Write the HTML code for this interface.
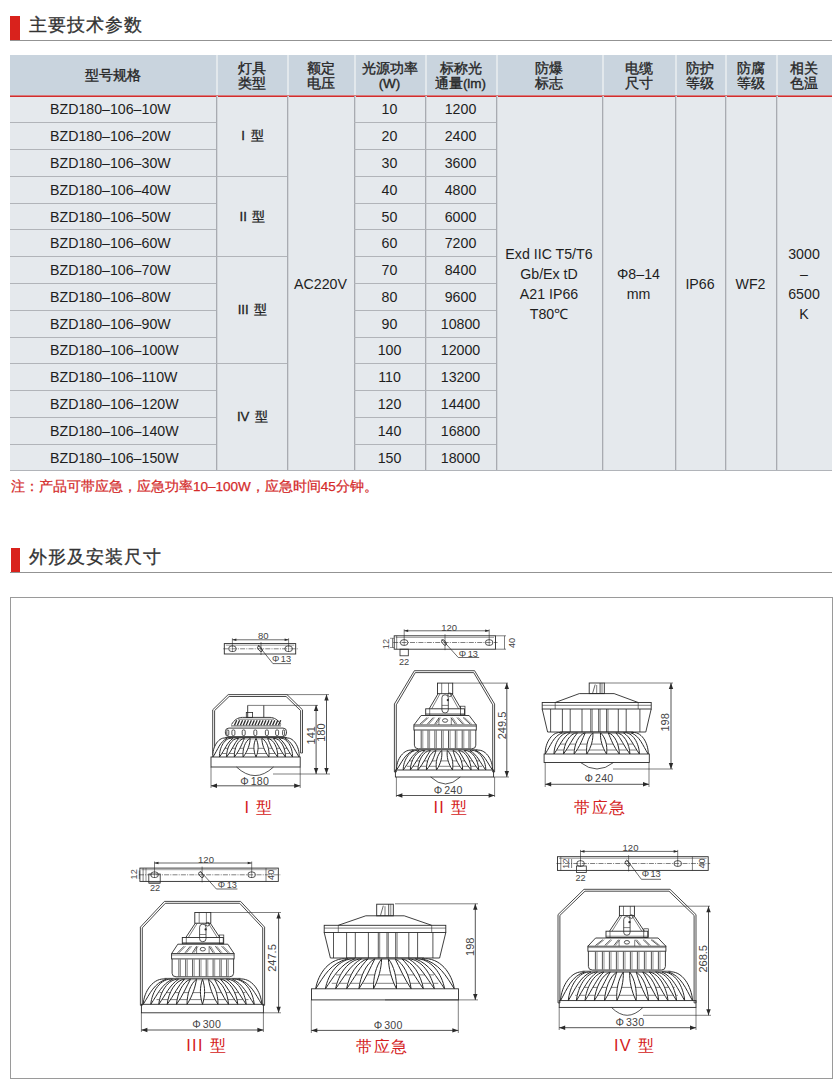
<!DOCTYPE html>
<html><head><meta charset="utf-8">
<style>
html,body{margin:0;padding:0;background:#fff;}
body{width:840px;height:1092px;position:relative;overflow:hidden;font-family:"Liberation Sans",sans-serif;color:#222;}
.a{position:absolute;}
.h1{position:absolute;font-size:18px;color:#333;line-height:20px;white-space:nowrap;letter-spacing:0.95px;-webkit-text-stroke:0.3px #333;}
.bar{position:absolute;background:#d9221c;}
.rule{position:absolute;height:1px;background:#939393;}
.hd{position:absolute;display:flex;align-items:center;justify-content:center;text-align:center;font-size:13.5px;line-height:15.5px;color:#262626;-webkit-text-stroke:0.35px #262626;}
.cell{position:absolute;display:flex;align-items:center;justify-content:center;text-align:center;font-size:14.2px;line-height:20px;color:#1e1e1e;white-space:nowrap;}
.vl{position:absolute;width:1px;background:#a8abb1;box-shadow:1px 0 0 #d3d6da;}
.hl{position:absolute;height:1px;background:#b1b4b9;}
.lbl{position:absolute;font-size:16px;color:#d42020;white-space:nowrap;line-height:18px;}
</style></head><body>

<div class="bar" style="left:10px;top:16px;width:10px;height:24px"></div>
<div class="h1" style="left:29px;top:15px">主要技术参数</div>
<div class="rule" style="left:10px;top:40px;width:822px"></div>
<div class="a" style="left:10px;top:55px;width:822px;height:40px;background:#c9d4de"></div>
<div class="a" style="left:10px;top:96px;width:822px;height:375px;background:#e5e9ed"></div>
<div class="a" style="left:10px;top:95px;width:822px;height:1px;background:#d77a7c"></div>
<div class="a" style="left:10px;top:96px;width:822px;height:1px;background:#d32c2c"></div>
<div class="a" style="left:216px;top:55px;width:2px;height:40px;background:#e2e8ec"></div>
<div class="a" style="left:287px;top:55px;width:2px;height:40px;background:#e2e8ec"></div>
<div class="a" style="left:354px;top:55px;width:2px;height:40px;background:#e2e8ec"></div>
<div class="a" style="left:425px;top:55px;width:2px;height:40px;background:#e2e8ec"></div>
<div class="a" style="left:496px;top:55px;width:2px;height:40px;background:#e2e8ec"></div>
<div class="a" style="left:602px;top:55px;width:2px;height:40px;background:#e2e8ec"></div>
<div class="a" style="left:675px;top:55px;width:2px;height:40px;background:#e2e8ec"></div>
<div class="a" style="left:725px;top:55px;width:2px;height:40px;background:#e2e8ec"></div>
<div class="a" style="left:776px;top:55px;width:2px;height:40px;background:#e2e8ec"></div>
<div class="hd" style="left:10px;top:56px;width:206px;height:40px">型号规格</div>
<div class="hd" style="left:216px;top:56px;width:71px;height:40px">灯具<br>类型</div>
<div class="hd" style="left:287px;top:56px;width:67px;height:40px">额定<br>电压</div>
<div class="hd" style="left:354px;top:56px;width:71px;height:40px">光源功率<br>(W)</div>
<div class="hd" style="left:425px;top:56px;width:71px;height:40px">标称光<br>通量(lm)</div>
<div class="hd" style="left:496px;top:56px;width:106px;height:40px">防爆<br>标志</div>
<div class="hd" style="left:602px;top:56px;width:73px;height:40px">电缆<br>尺寸</div>
<div class="hd" style="left:675px;top:56px;width:50px;height:40px">防护<br>等级</div>
<div class="hd" style="left:725px;top:56px;width:51px;height:40px">防腐<br>等级</div>
<div class="hd" style="left:776px;top:56px;width:56px;height:40px">相关<br>色温</div>
<div class="vl" style="left:216px;top:96px;height:375px"></div>
<div class="vl" style="left:287px;top:96px;height:375px"></div>
<div class="vl" style="left:354px;top:96px;height:375px"></div>
<div class="vl" style="left:425px;top:96px;height:375px"></div>
<div class="vl" style="left:496px;top:96px;height:375px"></div>
<div class="vl" style="left:602px;top:96px;height:375px"></div>
<div class="vl" style="left:675px;top:96px;height:375px"></div>
<div class="vl" style="left:725px;top:96px;height:375px"></div>
<div class="vl" style="left:776px;top:96px;height:375px"></div>
<div class="hl" style="left:10px;top:122px;width:206px"></div>
<div class="hl" style="left:354px;top:122px;width:142px"></div>
<div class="hl" style="left:10px;top:149px;width:206px"></div>
<div class="hl" style="left:354px;top:149px;width:142px"></div>
<div class="hl" style="left:10px;top:176px;width:206px"></div>
<div class="hl" style="left:354px;top:176px;width:142px"></div>
<div class="hl" style="left:216px;top:176px;width:71px"></div>
<div class="hl" style="left:10px;top:203px;width:206px"></div>
<div class="hl" style="left:354px;top:203px;width:142px"></div>
<div class="hl" style="left:10px;top:229px;width:206px"></div>
<div class="hl" style="left:354px;top:229px;width:142px"></div>
<div class="hl" style="left:10px;top:256px;width:206px"></div>
<div class="hl" style="left:354px;top:256px;width:142px"></div>
<div class="hl" style="left:216px;top:256px;width:71px"></div>
<div class="hl" style="left:10px;top:283px;width:206px"></div>
<div class="hl" style="left:354px;top:283px;width:142px"></div>
<div class="hl" style="left:10px;top:310px;width:206px"></div>
<div class="hl" style="left:354px;top:310px;width:142px"></div>
<div class="hl" style="left:10px;top:337px;width:206px"></div>
<div class="hl" style="left:354px;top:337px;width:142px"></div>
<div class="hl" style="left:10px;top:363px;width:206px"></div>
<div class="hl" style="left:354px;top:363px;width:142px"></div>
<div class="hl" style="left:216px;top:363px;width:71px"></div>
<div class="hl" style="left:10px;top:390px;width:206px"></div>
<div class="hl" style="left:354px;top:390px;width:142px"></div>
<div class="hl" style="left:10px;top:417px;width:206px"></div>
<div class="hl" style="left:354px;top:417px;width:142px"></div>
<div class="hl" style="left:10px;top:444px;width:206px"></div>
<div class="hl" style="left:354px;top:444px;width:142px"></div>
<div class="hl" style="left:10px;top:470px;width:822px"></div>
<div class="cell" style="left:50px;top:96.0px;width:166px;height:26.785714285714278px;justify-content:flex-start">BZD180–106–10W</div>
<div class="cell" style="left:354px;top:96.0px;width:71px;height:26.785714285714278px;">10</div>
<div class="cell" style="left:425px;top:96.0px;width:71px;height:26.785714285714278px;">1200</div>
<div class="cell" style="left:50px;top:122.78571428571428px;width:166px;height:26.785714285714278px;justify-content:flex-start">BZD180–106–20W</div>
<div class="cell" style="left:354px;top:122.78571428571428px;width:71px;height:26.785714285714278px;">20</div>
<div class="cell" style="left:425px;top:122.78571428571428px;width:71px;height:26.785714285714278px;">2400</div>
<div class="cell" style="left:50px;top:149.57142857142856px;width:166px;height:26.785714285714278px;justify-content:flex-start">BZD180–106–30W</div>
<div class="cell" style="left:354px;top:149.57142857142856px;width:71px;height:26.785714285714278px;">30</div>
<div class="cell" style="left:425px;top:149.57142857142856px;width:71px;height:26.785714285714278px;">3600</div>
<div class="cell" style="left:50px;top:176.35714285714286px;width:166px;height:26.785714285714278px;justify-content:flex-start">BZD180–106–40W</div>
<div class="cell" style="left:354px;top:176.35714285714286px;width:71px;height:26.785714285714278px;">40</div>
<div class="cell" style="left:425px;top:176.35714285714286px;width:71px;height:26.785714285714278px;">4800</div>
<div class="cell" style="left:50px;top:203.14285714285714px;width:166px;height:26.785714285714278px;justify-content:flex-start">BZD180–106–50W</div>
<div class="cell" style="left:354px;top:203.14285714285714px;width:71px;height:26.785714285714278px;">50</div>
<div class="cell" style="left:425px;top:203.14285714285714px;width:71px;height:26.785714285714278px;">6000</div>
<div class="cell" style="left:50px;top:229.92857142857142px;width:166px;height:26.785714285714306px;justify-content:flex-start">BZD180–106–60W</div>
<div class="cell" style="left:354px;top:229.92857142857142px;width:71px;height:26.785714285714306px;">60</div>
<div class="cell" style="left:425px;top:229.92857142857142px;width:71px;height:26.785714285714306px;">7200</div>
<div class="cell" style="left:50px;top:256.7142857142857px;width:166px;height:26.785714285714278px;justify-content:flex-start">BZD180–106–70W</div>
<div class="cell" style="left:354px;top:256.7142857142857px;width:71px;height:26.785714285714278px;">70</div>
<div class="cell" style="left:425px;top:256.7142857142857px;width:71px;height:26.785714285714278px;">8400</div>
<div class="cell" style="left:50px;top:283.5px;width:166px;height:26.785714285714278px;justify-content:flex-start">BZD180–106–80W</div>
<div class="cell" style="left:354px;top:283.5px;width:71px;height:26.785714285714278px;">80</div>
<div class="cell" style="left:425px;top:283.5px;width:71px;height:26.785714285714278px;">9600</div>
<div class="cell" style="left:50px;top:310.2857142857143px;width:166px;height:26.785714285714278px;justify-content:flex-start">BZD180–106–90W</div>
<div class="cell" style="left:354px;top:310.2857142857143px;width:71px;height:26.785714285714278px;">90</div>
<div class="cell" style="left:425px;top:310.2857142857143px;width:71px;height:26.785714285714278px;">10800</div>
<div class="cell" style="left:50px;top:337.07142857142856px;width:166px;height:26.785714285714278px;justify-content:flex-start">BZD180–106–100W</div>
<div class="cell" style="left:354px;top:337.07142857142856px;width:71px;height:26.785714285714278px;">100</div>
<div class="cell" style="left:425px;top:337.07142857142856px;width:71px;height:26.785714285714278px;">12000</div>
<div class="cell" style="left:50px;top:363.85714285714283px;width:166px;height:26.785714285714278px;justify-content:flex-start">BZD180–106–110W</div>
<div class="cell" style="left:354px;top:363.85714285714283px;width:71px;height:26.785714285714278px;">110</div>
<div class="cell" style="left:425px;top:363.85714285714283px;width:71px;height:26.785714285714278px;">13200</div>
<div class="cell" style="left:50px;top:390.6428571428571px;width:166px;height:26.785714285714278px;justify-content:flex-start">BZD180–106–120W</div>
<div class="cell" style="left:354px;top:390.6428571428571px;width:71px;height:26.785714285714278px;">120</div>
<div class="cell" style="left:425px;top:390.6428571428571px;width:71px;height:26.785714285714278px;">14400</div>
<div class="cell" style="left:50px;top:417.42857142857144px;width:166px;height:26.785714285714278px;justify-content:flex-start">BZD180–106–140W</div>
<div class="cell" style="left:354px;top:417.42857142857144px;width:71px;height:26.785714285714278px;">140</div>
<div class="cell" style="left:425px;top:417.42857142857144px;width:71px;height:26.785714285714278px;">16800</div>
<div class="cell" style="left:50px;top:444.2142857142857px;width:166px;height:26.785714285714278px;justify-content:flex-start">BZD180–106–150W</div>
<div class="cell" style="left:354px;top:444.2142857142857px;width:71px;height:26.785714285714278px;">150</div>
<div class="cell" style="left:425px;top:444.2142857142857px;width:71px;height:26.785714285714278px;">18000</div>
<div class="cell" style="left:217px;top:96.0px;width:71px;height:80.35714285714286px;font-size:13.2px;word-spacing:2px;-webkit-text-stroke:0.3px #1e1e1e">I 型</div>
<div class="cell" style="left:217px;top:176.35714285714286px;width:71px;height:80.35714285714286px;font-size:13.2px;word-spacing:2px;-webkit-text-stroke:0.3px #1e1e1e">II 型</div>
<div class="cell" style="left:217px;top:256.7142857142857px;width:71px;height:107.14285714285711px;font-size:13.2px;word-spacing:2px;-webkit-text-stroke:0.3px #1e1e1e">III 型</div>
<div class="cell" style="left:217px;top:363.85714285714283px;width:71px;height:107.14285714285717px;font-size:13.2px;word-spacing:2px;-webkit-text-stroke:0.3px #1e1e1e">IV 型</div>
<div class="cell" style="left:287px;top:96px;width:67px;height:375px;">AC220V</div>
<div class="cell" style="left:496px;top:96px;width:106px;height:375px;white-space:normal">Exd IIC T5/T6<br>Gb/Ex tD<br>A21 IP66<br>T80℃</div>
<div class="cell" style="left:602px;top:96px;width:73px;height:375px;white-space:normal">Φ8–14<br>mm</div>
<div class="cell" style="left:675px;top:96px;width:50px;height:375px;">IP66</div>
<div class="cell" style="left:725px;top:96px;width:51px;height:375px;">WF2</div>
<div class="cell" style="left:776px;top:96px;width:56px;height:375px;white-space:normal">3000<br>–<br>6500<br>K</div>
<div class="a" style="left:11px;top:478px;font-size:13.5px;color:#d42a2a;-webkit-text-stroke:0.25px #d42a2a;white-space:nowrap;line-height:18px">注：产品可带应急，应急功率10–100W，应急时间45分钟。</div>
<div class="bar" style="left:11px;top:548px;width:9px;height:24px"></div>
<div class="h1" style="left:29px;top:547px">外形及安装尺寸</div>
<div class="rule" style="left:10px;top:572px;width:822px"></div>
<div class="a" style="left:10px;top:597px;width:821px;height:480px;border:1px solid #9a9a9a"></div>
<svg class="a" style="left:0;top:0" width="840" height="1092" viewBox="0 0 840 1092" font-family="Liberation Sans, sans-serif">
<rect x="224.3" y="643.6" width="71.4" height="10.4" rx="0" fill="none" stroke="#2a2a2a" stroke-width="0.9"/>
<line x1="225.8" y1="645.2" x2="294.2" y2="645.2" stroke="#2a2a2a" stroke-width="0.45" />
<line x1="223.3" y1="648.8" x2="297.7" y2="648.8" stroke="#2a2a2a" stroke-width="0.6" stroke-dasharray="5 1.2 1 1.2"/>
<rect x="228.7" y="646.0" width="7.5" height="5.5" rx="2.75" fill="none" stroke="#2a2a2a" stroke-width="0.8"/>
<rect x="284.9" y="646.0" width="7.5" height="5.5" rx="2.75" fill="none" stroke="#2a2a2a" stroke-width="0.8"/>
<line x1="232.4" y1="645.8" x2="232.4" y2="651.8" stroke="#2a2a2a" stroke-width="0.5" />
<line x1="288.6" y1="645.8" x2="288.6" y2="651.8" stroke="#2a2a2a" stroke-width="0.5" />
<line x1="232.4" y1="638.3" x2="232.4" y2="646.3" stroke="#2a2a2a" stroke-width="0.6" />
<line x1="288.6" y1="638.3" x2="288.6" y2="646.3" stroke="#2a2a2a" stroke-width="0.6" />
<line x1="232.4" y1="639.8" x2="288.6" y2="639.8" stroke="#2a2a2a" stroke-width="0.7" />
<polygon points="232.4,639.8 236.4,638.5 236.4,641.1" fill="#2a2a2a"/>
<polygon points="288.6,639.8 284.6,638.5 284.6,641.1" fill="#2a2a2a"/>
<text x="263.3" y="635.3" font-size="9.5" fill="#444" text-anchor="middle" dominant-baseline="central">80</text>
<line x1="261.0" y1="642.1" x2="261.0" y2="655.0" stroke="#2a2a2a" stroke-width="0.6" />
<ellipse cx="260.0" cy="648.8" rx="3.2" ry="1.7" transform="rotate(52 260.0 648.8)" fill="none" stroke="#2a2a2a" stroke-width="0.8"/>
<line x1="258.1" y1="645.0" x2="272.9" y2="663.6" stroke="#2a2a2a" stroke-width="0.7" />
<line x1="272.9" y1="663.6" x2="291.0" y2="663.6" stroke="#2a2a2a" stroke-width="0.7" />
<text x="281.5" y="658.8" font-size="9.2" fill="#444" text-anchor="middle" dominant-baseline="central">Φ<tspan dx="1.5">13</tspan></text>
<polyline points="212.7,754.7 212.7,709.8 228.2,694.6 287.0,694.6 302.5,709.8 302.5,753.0" fill="none" stroke="#2a2a2a" stroke-width="0.85" stroke-linejoin="round"/>
<polyline points="214.6,754.7 214.6,710.6 229.1,696.5 286.1,696.5 300.6,710.6 300.6,753.0" fill="none" stroke="#2a2a2a" stroke-width="0.85" stroke-linejoin="round"/>
<line x1="212.7" y1="754.7" x2="214.6" y2="754.7" stroke="#2a2a2a" stroke-width="0.8" />
<line x1="302.5" y1="753.0" x2="300.6" y2="753.0" stroke="#2a2a2a" stroke-width="0.8" />
<line x1="287.0" y1="694.6" x2="329.0" y2="694.6" stroke="#2a2a2a" stroke-width="0.6" />
<line x1="247.7" y1="705.4" x2="247.7" y2="717.4" stroke="#2a2a2a" stroke-width="0.9" />
<line x1="263.8" y1="705.4" x2="263.8" y2="717.4" stroke="#2a2a2a" stroke-width="0.9" />
<line x1="247.7" y1="705.4" x2="318.0" y2="705.4" stroke="#2a2a2a" stroke-width="0.6" />
<rect x="246.3" y="712.5" width="6.3" height="4.9" rx="0" fill="none" stroke="#2a2a2a" stroke-width="0.8"/>
<path d="M231.6,724.5 C234,720 238,717.4 242.3,717.4 L270,717.4 C274,717.4 278.5,720 280.7,724.5" fill="none" stroke="#2a2a2a" stroke-width="0.9" />
<line x1="238.0" y1="719.2" x2="274.0" y2="719.2" stroke="#2a2a2a" stroke-width="0.6" />
<line x1="231.0" y1="725.9" x2="281.0" y2="725.9" stroke="#2a2a2a" stroke-width="0.8" />
<line x1="234.5" y1="725.3" x2="236.7" y2="720.3" stroke="#2a2a2a" stroke-width="1.3" />
<line x1="237.4" y1="725.3" x2="239.6" y2="720.3" stroke="#2a2a2a" stroke-width="1.3" />
<line x1="240.4" y1="725.3" x2="242.6" y2="720.3" stroke="#2a2a2a" stroke-width="1.3" />
<line x1="243.3" y1="725.3" x2="245.5" y2="720.3" stroke="#2a2a2a" stroke-width="1.3" />
<line x1="246.2" y1="725.3" x2="248.4" y2="720.3" stroke="#2a2a2a" stroke-width="1.3" />
<line x1="249.2" y1="725.3" x2="251.4" y2="720.3" stroke="#2a2a2a" stroke-width="1.3" />
<line x1="252.1" y1="725.3" x2="254.3" y2="720.3" stroke="#2a2a2a" stroke-width="1.3" />
<line x1="255.0" y1="725.3" x2="257.2" y2="720.3" stroke="#2a2a2a" stroke-width="1.3" />
<line x1="258.0" y1="725.3" x2="260.2" y2="720.3" stroke="#2a2a2a" stroke-width="1.3" />
<line x1="260.9" y1="725.3" x2="263.1" y2="720.3" stroke="#2a2a2a" stroke-width="1.3" />
<line x1="263.8" y1="725.3" x2="266.0" y2="720.3" stroke="#2a2a2a" stroke-width="1.3" />
<line x1="266.8" y1="725.3" x2="269.0" y2="720.3" stroke="#2a2a2a" stroke-width="1.3" />
<line x1="269.7" y1="725.3" x2="271.9" y2="720.3" stroke="#2a2a2a" stroke-width="1.3" />
<line x1="272.6" y1="725.3" x2="274.8" y2="720.3" stroke="#2a2a2a" stroke-width="1.3" />
<line x1="275.6" y1="725.3" x2="277.8" y2="720.3" stroke="#2a2a2a" stroke-width="1.3" />
<line x1="278.5" y1="725.3" x2="280.7" y2="720.3" stroke="#2a2a2a" stroke-width="1.3" />
<rect x="225.4" y="728.1" width="61.1" height="8.5" rx="3.5" fill="none" stroke="#2a2a2a" stroke-width="0.9"/>
<line x1="226.0" y1="737.5" x2="286.0" y2="737.5" stroke="#2a2a2a" stroke-width="0.6" />
<rect x="226.8" y="729.9" width="2.0" height="5.6" rx="1.3" fill="none" stroke="#2a2a2a" stroke-width="0.8"/>
<rect x="231.9" y="729.9" width="3.0" height="5.6" rx="1.3" fill="none" stroke="#2a2a2a" stroke-width="0.8"/>
<rect x="242.2" y="729.9" width="3.0" height="5.6" rx="1.3" fill="none" stroke="#2a2a2a" stroke-width="0.8"/>
<rect x="253.8" y="729.9" width="3.0" height="5.6" rx="1.3" fill="none" stroke="#2a2a2a" stroke-width="0.8"/>
<rect x="265.4" y="729.9" width="3.0" height="5.6" rx="1.3" fill="none" stroke="#2a2a2a" stroke-width="0.8"/>
<rect x="275.6" y="729.9" width="3.0" height="5.6" rx="1.3" fill="none" stroke="#2a2a2a" stroke-width="0.8"/>
<rect x="282.6" y="729.9" width="2.0" height="5.6" rx="1.3" fill="none" stroke="#2a2a2a" stroke-width="0.8"/>
<line x1="224.2" y1="748.3" x2="287.8" y2="748.3" stroke="#2a2a2a" stroke-width="0.6" />
<line x1="222.2" y1="753.5" x2="289.8" y2="753.5" stroke="#2a2a2a" stroke-width="0.6" />
<line x1="225.0" y1="737.6" x2="287.0" y2="737.6" stroke="#2a2a2a" stroke-width="0.8" />
<line x1="226.0" y1="738.9" x2="286.0" y2="738.9" stroke="#2a2a2a" stroke-width="0.5" />
<path d="M227.0,738.4 C218.8,735.6 212.0,747.5 212.9,757.0 C218.2,749.1 219.7,741.9 227.0,738.4 Z" fill="#fff" stroke="#2a2a2a" stroke-width="1.0" />
<path d="M232.8,738.4 C225.1,736.6 219.0,747.8 219.5,757.0 C225.0,749.5 226.9,742.6 232.8,738.4 Z" fill="#fff" stroke="#2a2a2a" stroke-width="1.0" />
<path d="M238.6,738.4 C231.5,737.8 226.3,748.1 226.6,757.0 C232.1,750.0 234.3,743.3 238.6,738.4 Z" fill="#fff" stroke="#2a2a2a" stroke-width="1.0" />
<path d="M244.4,738.4 C238.0,739.2 234.0,748.5 234.3,757.0 C239.7,750.4 242.0,743.7 244.4,738.4 Z" fill="#fff" stroke="#2a2a2a" stroke-width="1.0" />
<path d="M250.2,738.4 C244.9,741.1 242.3,749.2 243.1,757.0 C247.9,750.8 250.0,744.0 250.2,738.4 Z" fill="#fff" stroke="#2a2a2a" stroke-width="1.0" />
<path d="M256.0,738.4 C253.2,744.0 253.2,750.6 256.0,757.0 C258.8,750.6 258.8,744.0 256.0,738.4 Z" fill="#fff" stroke="#2a2a2a" stroke-width="1.0" />
<path d="M261.8,738.4 C262.0,744.0 264.1,750.8 268.9,757.0 C269.7,749.2 267.1,741.1 261.8,738.4 Z" fill="#fff" stroke="#2a2a2a" stroke-width="1.0" />
<path d="M267.6,738.4 C270.0,743.7 272.3,750.4 277.7,757.0 C278.0,748.5 274.0,739.2 267.6,738.4 Z" fill="#fff" stroke="#2a2a2a" stroke-width="1.0" />
<path d="M273.4,738.4 C277.7,743.3 279.9,750.0 285.4,757.0 C285.7,748.1 280.5,737.8 273.4,738.4 Z" fill="#fff" stroke="#2a2a2a" stroke-width="1.0" />
<path d="M279.2,738.4 C285.1,742.6 287.0,749.5 292.5,757.0 C293.0,747.8 286.9,736.6 279.2,738.4 Z" fill="#fff" stroke="#2a2a2a" stroke-width="1.0" />
<path d="M285.0,738.4 C292.3,741.9 293.8,749.1 299.1,757.0 C300.0,747.5 293.2,735.6 285.0,738.4 Z" fill="#fff" stroke="#2a2a2a" stroke-width="1.0" />
<rect x="211.0" y="757.0" width="89.2" height="10.0" rx="0" fill="none" stroke="#2a2a2a" stroke-width="0.9"/>
<path d="M236.5,767.0 Q255.0,784.2 273.5,767.0" fill="none" stroke="#2a2a2a" stroke-width="0.8" />
<line x1="273.0" y1="774.0" x2="330.0" y2="774.0" stroke="#2a2a2a" stroke-width="0.6" />
<line x1="316.1" y1="705.0" x2="316.1" y2="774.0" stroke="#2a2a2a" stroke-width="0.8" />
<polygon points="316.1,705.0 313.9,711.0 318.3,711.0" fill="#2a2a2a"/>
<polygon points="316.1,774.0 313.9,768.0 318.3,768.0" fill="#2a2a2a"/>
<text x="311.2" y="735.3" font-size="11" fill="#444" text-anchor="middle" dominant-baseline="central" letter-spacing="0" transform="rotate(-90 311.2 735.3)">141</text>
<line x1="326.5" y1="694.6" x2="326.5" y2="774.0" stroke="#2a2a2a" stroke-width="0.8" />
<polygon points="326.5,694.6 324.3,700.6 328.7,700.6" fill="#2a2a2a"/>
<polygon points="326.5,774.0 324.3,768.0 328.7,768.0" fill="#2a2a2a"/>
<text x="321.2" y="732.6" font-size="11" fill="#444" text-anchor="middle" dominant-baseline="central" letter-spacing="0" transform="rotate(-90 321.2 732.6)">180</text>
<line x1="211.0" y1="767.0" x2="211.0" y2="788.0" stroke="#2a2a2a" stroke-width="0.6" />
<line x1="300.2" y1="767.0" x2="300.2" y2="788.0" stroke="#2a2a2a" stroke-width="0.6" />
<line x1="211.0" y1="785.8" x2="300.2" y2="785.8" stroke="#2a2a2a" stroke-width="0.8" />
<polygon points="211.0,785.8 217.0,783.6 217.0,788.0" fill="#2a2a2a"/>
<polygon points="300.2,785.8 294.2,783.6 294.2,788.0" fill="#2a2a2a"/>
<text x="254.7" y="780.7" font-size="10.6" fill="#444" text-anchor="middle" dominant-baseline="central" letter-spacing="0.25">Φ<tspan dx="1.8">180</tspan></text>
<text x="259.0" y="807.0" font-size="16.3" fill="#d42020" text-anchor="middle" dominant-baseline="central" letter-spacing="1.4">I 型</text>
<rect x="394.2" y="635.8" width="101.3" height="13.4" rx="0" fill="none" stroke="#2a2a2a" stroke-width="0.9"/>
<line x1="395.7" y1="637.4" x2="494.0" y2="637.4" stroke="#2a2a2a" stroke-width="0.45" />
<line x1="393.2" y1="642.5" x2="497.5" y2="642.5" stroke="#2a2a2a" stroke-width="0.6" stroke-dasharray="5 1.2 1 1.2"/>
<rect x="400.4" y="639.8" width="7.5" height="5.5" rx="2.75" fill="none" stroke="#2a2a2a" stroke-width="0.8"/>
<rect x="485.4" y="639.8" width="7.5" height="5.5" rx="2.75" fill="none" stroke="#2a2a2a" stroke-width="0.8"/>
<line x1="404.2" y1="639.5" x2="404.2" y2="645.5" stroke="#2a2a2a" stroke-width="0.5" />
<line x1="489.2" y1="639.5" x2="489.2" y2="645.5" stroke="#2a2a2a" stroke-width="0.5" />
<line x1="404.2" y1="629.3" x2="404.2" y2="640.0" stroke="#2a2a2a" stroke-width="0.6" />
<line x1="489.2" y1="629.3" x2="489.2" y2="640.0" stroke="#2a2a2a" stroke-width="0.6" />
<line x1="404.2" y1="630.8" x2="489.2" y2="630.8" stroke="#2a2a2a" stroke-width="0.7" />
<polygon points="404.2,630.8 408.2,629.5 408.2,632.1" fill="#2a2a2a"/>
<polygon points="489.2,630.8 485.2,629.5 485.2,632.1" fill="#2a2a2a"/>
<text x="449.2" y="627.0" font-size="9.5" fill="#444" text-anchor="middle" dominant-baseline="central">120</text>
<line x1="445.0" y1="634.3" x2="445.0" y2="650.2" stroke="#2a2a2a" stroke-width="0.6" />
<ellipse cx="444.0" cy="642.5" rx="3.2" ry="1.7" transform="rotate(52 444.0 642.5)" fill="none" stroke="#2a2a2a" stroke-width="0.8"/>
<line x1="441.7" y1="639.2" x2="458.3" y2="657.5" stroke="#2a2a2a" stroke-width="0.7" />
<line x1="458.3" y1="657.5" x2="479.2" y2="657.5" stroke="#2a2a2a" stroke-width="0.7" />
<text x="468.4" y="654.2" font-size="9.2" fill="#444" text-anchor="middle" dominant-baseline="central">Φ<tspan dx="1.5">13</tspan></text>
<line x1="396.7" y1="635.8" x2="396.7" y2="649.2" stroke="#2a2a2a" stroke-width="0.6" />
<line x1="392.5" y1="638.3" x2="392.5" y2="647.5" stroke="#2a2a2a" stroke-width="0.6" />
<line x1="390.0" y1="638.3" x2="394.2" y2="638.3" stroke="#2a2a2a" stroke-width="0.5" />
<line x1="390.0" y1="647.5" x2="394.2" y2="647.5" stroke="#2a2a2a" stroke-width="0.5" />
<text x="385.8" y="644.0" font-size="9.2" fill="#444" text-anchor="middle" dominant-baseline="central" transform="rotate(-90 385.8 644.0)">12</text>
<line x1="495.5" y1="635.8" x2="506.0" y2="635.8" stroke="#2a2a2a" stroke-width="0.6" />
<line x1="495.5" y1="649.2" x2="506.0" y2="649.2" stroke="#2a2a2a" stroke-width="0.6" />
<line x1="504.5" y1="635.8" x2="504.5" y2="649.2" stroke="#2a2a2a" stroke-width="0.6" />
<text x="511.7" y="643.0" font-size="9.2" fill="#444" text-anchor="middle" dominant-baseline="central" transform="rotate(-90 511.7 643.0)">40</text>
<rect x="400.0" y="649.2" width="8.3" height="6.6" rx="0" fill="none" stroke="#2a2a2a" stroke-width="0.8"/>
<text x="404.0" y="661.7" font-size="9.2" fill="#444" text-anchor="middle" dominant-baseline="central">22</text>
<polyline points="394.4,772.0 394.4,704.0 414.4,670.7 474.6,670.7 494.6,704.0 494.6,772.0" fill="none" stroke="#2a2a2a" stroke-width="0.85" stroke-linejoin="round"/>
<polyline points="396.3,772.0 396.3,704.8 415.3,672.6 473.7,672.6 492.7,704.8 492.7,772.0" fill="none" stroke="#2a2a2a" stroke-width="0.85" stroke-linejoin="round"/>
<line x1="394.4" y1="772.0" x2="396.3" y2="772.0" stroke="#2a2a2a" stroke-width="0.8" />
<line x1="494.6" y1="772.0" x2="492.7" y2="772.0" stroke="#2a2a2a" stroke-width="0.8" />
<line x1="474.0" y1="670.7" x2="474.0" y2="670.7" stroke="#2a2a2a" stroke-width="0.8" />
<rect x="437.5" y="683.1" width="15.2" height="10.6" rx="0" fill="none" stroke="#2a2a2a" stroke-width="0.9"/>
<line x1="441.7" y1="683.1" x2="441.7" y2="693.8" stroke="#2a2a2a" stroke-width="0.6" />
<line x1="448.5" y1="683.1" x2="448.5" y2="693.8" stroke="#2a2a2a" stroke-width="0.6" />
<line x1="438.0" y1="693.8" x2="429.2" y2="708.8" stroke="#2a2a2a" stroke-width="0.9" />
<line x1="452.2" y1="693.8" x2="461.0" y2="708.8" stroke="#2a2a2a" stroke-width="0.9" />
<line x1="440.0" y1="693.8" x2="431.7" y2="708.8" stroke="#2a2a2a" stroke-width="0.6" />
<line x1="450.2" y1="693.8" x2="458.5" y2="708.8" stroke="#2a2a2a" stroke-width="0.6" />
<rect x="441.9" y="694.8" width="6.4" height="18.1" rx="3" fill="none" stroke="#2a2a2a" stroke-width="0.8"/>
<line x1="441.9" y1="705.4" x2="448.3" y2="705.4" stroke="#2a2a2a" stroke-width="0.6" />
<circle cx="449.7" cy="694.8" r="1.8" fill="none" stroke="#2a2a2a" stroke-width="0.8"/>
<circle cx="447.8" cy="700.1" r="1.1" fill="#2a2a2a"/>
<rect x="425.7" y="708.8" width="38.8" height="6.2" rx="0" fill="none" stroke="#2a2a2a" stroke-width="0.9"/>
<line x1="425.7" y1="713.7" x2="464.5" y2="713.7" stroke="#2a2a2a" stroke-width="0.5" />
<rect x="460.5" y="706.2" width="4.5" height="8.8" rx="0" fill="none" stroke="#2a2a2a" stroke-width="0.7"/>
<line x1="429.7" y1="708.8" x2="429.7" y2="715.0" stroke="#2a2a2a" stroke-width="0.6" />
<path d="M413.9,725.0 L421.1,715.5 L469.1,715.5 L476.3,725.0" fill="none" stroke="#2a2a2a" stroke-width="0.9" />
<line x1="427.2" y1="717.5" x2="419.9" y2="724.2" stroke="#2a2a2a" stroke-width="0.8" />
<line x1="428.7" y1="717.5" x2="421.4" y2="724.2" stroke="#2a2a2a" stroke-width="0.5" />
<line x1="433.2" y1="717.5" x2="427.3" y2="724.2" stroke="#2a2a2a" stroke-width="0.8" />
<line x1="434.7" y1="717.5" x2="428.8" y2="724.2" stroke="#2a2a2a" stroke-width="0.5" />
<line x1="439.2" y1="717.5" x2="434.7" y2="724.2" stroke="#2a2a2a" stroke-width="0.8" />
<line x1="440.7" y1="717.5" x2="436.2" y2="724.2" stroke="#2a2a2a" stroke-width="0.5" />
<line x1="451.0" y1="717.5" x2="455.5" y2="724.2" stroke="#2a2a2a" stroke-width="0.8" />
<line x1="452.5" y1="717.5" x2="457.0" y2="724.2" stroke="#2a2a2a" stroke-width="0.5" />
<line x1="457.0" y1="717.5" x2="462.9" y2="724.2" stroke="#2a2a2a" stroke-width="0.8" />
<line x1="458.5" y1="717.5" x2="464.4" y2="724.2" stroke="#2a2a2a" stroke-width="0.5" />
<line x1="463.0" y1="717.5" x2="470.3" y2="724.2" stroke="#2a2a2a" stroke-width="0.8" />
<line x1="464.5" y1="717.5" x2="471.8" y2="724.2" stroke="#2a2a2a" stroke-width="0.5" />
<ellipse cx="445.1" cy="720.5" rx="2.6" ry="1.8" fill="none" stroke="#2a2a2a" stroke-width="0.8"/>
<line x1="438.9" y1="718.0" x2="438.9" y2="725.0" stroke="#2a2a2a" stroke-width="0.6" />
<line x1="451.3" y1="718.0" x2="451.3" y2="725.0" stroke="#2a2a2a" stroke-width="0.6" />
<rect x="413.9" y="725.0" width="62.4" height="5.0" rx="0" fill="none" stroke="#2a2a2a" stroke-width="0.9"/>
<line x1="413.9" y1="726.4" x2="476.3" y2="726.4" stroke="#2a2a2a" stroke-width="0.5" />
<path d="M414.4,730.0 L414.4,745.2 Q414.4,748.8 418.4,748.8 L471.8,748.8 Q475.8,748.8 475.8,745.2 L475.8,730.0" fill="none" stroke="#2a2a2a" stroke-width="0.9" />
<line x1="421.2" y1="730.5" x2="421.2" y2="748.2" stroke="#2a2a2a" stroke-width="0.8" />
<line x1="422.8" y1="730.5" x2="422.8" y2="748.2" stroke="#2a2a2a" stroke-width="0.5" />
<line x1="428.0" y1="730.5" x2="428.0" y2="748.2" stroke="#2a2a2a" stroke-width="0.8" />
<line x1="429.6" y1="730.5" x2="429.6" y2="748.2" stroke="#2a2a2a" stroke-width="0.5" />
<line x1="434.9" y1="730.5" x2="434.9" y2="748.2" stroke="#2a2a2a" stroke-width="0.8" />
<line x1="436.5" y1="730.5" x2="436.5" y2="748.2" stroke="#2a2a2a" stroke-width="0.5" />
<line x1="441.7" y1="730.5" x2="441.7" y2="748.2" stroke="#2a2a2a" stroke-width="0.8" />
<line x1="443.3" y1="730.5" x2="443.3" y2="748.2" stroke="#2a2a2a" stroke-width="0.5" />
<line x1="448.5" y1="730.5" x2="448.5" y2="748.2" stroke="#2a2a2a" stroke-width="0.8" />
<line x1="450.1" y1="730.5" x2="450.1" y2="748.2" stroke="#2a2a2a" stroke-width="0.5" />
<line x1="455.3" y1="730.5" x2="455.3" y2="748.2" stroke="#2a2a2a" stroke-width="0.8" />
<line x1="456.9" y1="730.5" x2="456.9" y2="748.2" stroke="#2a2a2a" stroke-width="0.5" />
<line x1="462.2" y1="730.5" x2="462.2" y2="748.2" stroke="#2a2a2a" stroke-width="0.8" />
<line x1="463.8" y1="730.5" x2="463.8" y2="748.2" stroke="#2a2a2a" stroke-width="0.5" />
<line x1="469.0" y1="730.5" x2="469.0" y2="748.2" stroke="#2a2a2a" stroke-width="0.8" />
<line x1="470.6" y1="730.5" x2="470.6" y2="748.2" stroke="#2a2a2a" stroke-width="0.5" />
<line x1="452.7" y1="683.1" x2="508.0" y2="683.1" stroke="#2a2a2a" stroke-width="0.6" />
<line x1="409.3" y1="760.9" x2="479.7" y2="760.9" stroke="#2a2a2a" stroke-width="0.6" />
<line x1="407.0" y1="766.3" x2="482.0" y2="766.3" stroke="#2a2a2a" stroke-width="0.6" />
<line x1="411.5" y1="749.7" x2="477.5" y2="749.7" stroke="#2a2a2a" stroke-width="0.8" />
<line x1="412.5" y1="751.0" x2="476.5" y2="751.0" stroke="#2a2a2a" stroke-width="0.5" />
<path d="M413.5,750.5 C403.7,747.7 396.1,760.0 396.5,770.0 C402.3,761.8 404.6,754.1 413.5,750.5 Z" fill="#fff" stroke="#2a2a2a" stroke-width="1.0" />
<path d="M419.1,750.5 C410.1,748.7 403.2,760.2 403.2,770.0 C409.1,762.2 411.6,754.8 419.1,750.5 Z" fill="#fff" stroke="#2a2a2a" stroke-width="1.0" />
<path d="M424.8,750.5 C416.6,749.7 410.5,760.5 410.3,770.0 C416.2,762.7 418.9,755.4 424.8,750.5 Z" fill="#fff" stroke="#2a2a2a" stroke-width="1.0" />
<path d="M430.4,750.5 C423.1,751.0 418.1,760.9 417.9,770.0 C423.7,763.1 426.5,756.0 430.4,750.5 Z" fill="#fff" stroke="#2a2a2a" stroke-width="1.0" />
<path d="M436.0,750.5 C429.8,752.6 426.2,761.5 426.4,770.0 C431.8,763.4 434.4,756.3 436.0,750.5 Z" fill="#fff" stroke="#2a2a2a" stroke-width="1.0" />
<path d="M441.7,750.5 C437.1,754.7 435.3,762.3 436.5,770.0 C440.9,763.6 442.5,756.5 441.7,750.5 Z" fill="#fff" stroke="#2a2a2a" stroke-width="1.0" />
<path d="M447.3,750.5 C446.5,756.5 448.1,763.6 452.5,770.0 C453.7,762.3 451.9,754.7 447.3,750.5 Z" fill="#fff" stroke="#2a2a2a" stroke-width="1.0" />
<path d="M453.0,750.5 C454.6,756.3 457.2,763.4 462.6,770.0 C462.8,761.5 459.2,752.6 453.0,750.5 Z" fill="#fff" stroke="#2a2a2a" stroke-width="1.0" />
<path d="M458.6,750.5 C462.5,756.0 465.3,763.1 471.1,770.0 C470.9,760.9 465.9,751.0 458.6,750.5 Z" fill="#fff" stroke="#2a2a2a" stroke-width="1.0" />
<path d="M464.2,750.5 C470.1,755.4 472.8,762.7 478.7,770.0 C478.5,760.5 472.4,749.7 464.2,750.5 Z" fill="#fff" stroke="#2a2a2a" stroke-width="1.0" />
<path d="M469.9,750.5 C477.4,754.8 479.9,762.2 485.8,770.0 C485.8,760.2 478.9,748.7 469.9,750.5 Z" fill="#fff" stroke="#2a2a2a" stroke-width="1.0" />
<path d="M475.5,750.5 C484.4,754.1 486.7,761.8 492.5,770.0 C492.9,760.0 485.3,747.7 475.5,750.5 Z" fill="#fff" stroke="#2a2a2a" stroke-width="1.0" />
<rect x="395.4" y="770.0" width="98.2" height="7.0" rx="0" fill="none" stroke="#2a2a2a" stroke-width="0.9"/>
<path d="M430.7,777.0 Q445.5,791.0 460.3,777.0" fill="none" stroke="#2a2a2a" stroke-width="0.8" />
<line x1="493.6" y1="777.0" x2="509.0" y2="777.0" stroke="#2a2a2a" stroke-width="0.6" />
<line x1="506.8" y1="683.1" x2="506.8" y2="777.0" stroke="#2a2a2a" stroke-width="0.8" />
<polygon points="506.8,683.1 504.6,689.1 509.0,689.1" fill="#2a2a2a"/>
<polygon points="506.8,777.0 504.6,771.0 509.0,771.0" fill="#2a2a2a"/>
<text x="501.5" y="725.5" font-size="11" fill="#444" text-anchor="middle" dominant-baseline="central" letter-spacing="0" transform="rotate(-90 501.5 725.5)">249.5</text>
<line x1="396.4" y1="777.0" x2="396.4" y2="797.0" stroke="#2a2a2a" stroke-width="0.6" />
<line x1="494.6" y1="777.0" x2="494.6" y2="797.0" stroke="#2a2a2a" stroke-width="0.6" />
<line x1="396.4" y1="795.5" x2="494.6" y2="795.5" stroke="#2a2a2a" stroke-width="0.8" />
<polygon points="396.4,795.5 402.4,793.3 402.4,797.7" fill="#2a2a2a"/>
<polygon points="494.6,795.5 488.6,793.3 488.6,797.7" fill="#2a2a2a"/>
<text x="448.2" y="790.0" font-size="10.6" fill="#444" text-anchor="middle" dominant-baseline="central" letter-spacing="0.25">Φ<tspan dx="1.8">240</tspan></text>
<text x="451.0" y="807.0" font-size="16.3" fill="#d42020" text-anchor="middle" dominant-baseline="central" letter-spacing="1.4">II 型</text>
<rect x="589.2" y="683.0" width="15.1" height="10.6" rx="0" fill="none" stroke="#2a2a2a" stroke-width="0.9"/>
<line x1="592.5" y1="693.6" x2="595.2" y2="684.5" stroke="#2a2a2a" stroke-width="0.7" />
<line x1="596.7" y1="685.0" x2="596.7" y2="693.6" stroke="#2a2a2a" stroke-width="0.6" />
<line x1="600.1" y1="683.0" x2="600.1" y2="693.6" stroke="#2a2a2a" stroke-width="0.8" />
<line x1="602.0" y1="683.0" x2="602.0" y2="693.6" stroke="#2a2a2a" stroke-width="0.6" />
<path d="M555.2,702.5 L579.3,693.6 L614.1,693.6 L638.2,702.5" fill="none" stroke="#2a2a2a" stroke-width="0.9" />
<rect x="542.2" y="702.5" width="109.0" height="6.5" rx="0" fill="none" stroke="#2a2a2a" stroke-width="0.9"/>
<line x1="542.2" y1="705.3" x2="651.2" y2="705.3" stroke="#2a2a2a" stroke-width="0.6" />
<line x1="555.2" y1="702.5" x2="555.2" y2="709.0" stroke="#2a2a2a" stroke-width="0.6" />
<line x1="638.2" y1="702.5" x2="638.2" y2="709.0" stroke="#2a2a2a" stroke-width="0.6" />
<path d="M542.2,709.0 L547.6,732.0 L645.8,732.0 L651.2,709.0" fill="none" stroke="#2a2a2a" stroke-width="0.9" />
<line x1="550.6" y1="709.0" x2="550.6" y2="732.0" stroke="#2a2a2a" stroke-width="0.8" />
<line x1="562.4" y1="709.0" x2="562.4" y2="732.0" stroke="#2a2a2a" stroke-width="0.8" />
<line x1="570.2" y1="709.0" x2="570.2" y2="732.0" stroke="#2a2a2a" stroke-width="0.8" />
<line x1="582.0" y1="709.0" x2="582.0" y2="732.0" stroke="#2a2a2a" stroke-width="0.8" />
<line x1="590.8" y1="709.0" x2="590.8" y2="732.0" stroke="#2a2a2a" stroke-width="0.8" />
<line x1="592.2" y1="709.0" x2="592.2" y2="732.0" stroke="#2a2a2a" stroke-width="0.6" />
<line x1="598.7" y1="709.0" x2="598.7" y2="732.0" stroke="#2a2a2a" stroke-width="0.8" />
<line x1="600.1" y1="709.0" x2="600.1" y2="732.0" stroke="#2a2a2a" stroke-width="0.6" />
<line x1="606.6" y1="709.0" x2="606.6" y2="732.0" stroke="#2a2a2a" stroke-width="0.8" />
<line x1="608.0" y1="709.0" x2="608.0" y2="732.0" stroke="#2a2a2a" stroke-width="0.6" />
<line x1="618.3" y1="709.0" x2="618.3" y2="732.0" stroke="#2a2a2a" stroke-width="0.8" />
<line x1="626.2" y1="709.0" x2="626.2" y2="732.0" stroke="#2a2a2a" stroke-width="0.8" />
<line x1="639.9" y1="709.0" x2="639.9" y2="732.0" stroke="#2a2a2a" stroke-width="0.8" />
<line x1="558.7" y1="744.1" x2="634.7" y2="744.1" stroke="#2a2a2a" stroke-width="0.6" />
<line x1="556.4" y1="750.0" x2="637.0" y2="750.0" stroke="#2a2a2a" stroke-width="0.6" />
<line x1="560.2" y1="732.0" x2="633.2" y2="732.0" stroke="#2a2a2a" stroke-width="0.8" />
<line x1="561.2" y1="733.3" x2="632.2" y2="733.3" stroke="#2a2a2a" stroke-width="0.5" />
<path d="M562.2,732.8 C552.4,730.2 544.8,743.2 545.2,754.0 C551.0,745.0 553.3,736.5 562.2,732.8 Z" fill="#fff" stroke="#2a2a2a" stroke-width="1.0" />
<path d="M569.9,732.8 C560.9,731.4 554.1,743.6 554.0,754.0 C560.0,745.5 562.7,737.4 569.9,732.8 Z" fill="#fff" stroke="#2a2a2a" stroke-width="1.0" />
<path d="M577.5,732.8 C569.5,732.9 563.8,744.1 563.5,754.0 C569.5,746.1 572.4,738.2 577.5,732.8 Z" fill="#fff" stroke="#2a2a2a" stroke-width="1.0" />
<path d="M585.2,732.8 C578.4,734.7 574.2,744.7 574.1,754.0 C579.8,746.6 582.6,738.9 585.2,732.8 Z" fill="#fff" stroke="#2a2a2a" stroke-width="1.0" />
<path d="M592.9,732.8 C587.9,737.3 585.8,745.6 586.8,754.0 C591.4,746.9 593.3,739.2 592.9,732.8 Z" fill="#fff" stroke="#2a2a2a" stroke-width="1.0" />
<path d="M600.5,732.8 C600.1,739.2 602.0,746.9 606.6,754.0 C607.6,745.6 605.5,737.3 600.5,732.8 Z" fill="#fff" stroke="#2a2a2a" stroke-width="1.0" />
<path d="M608.2,732.8 C610.8,738.9 613.6,746.6 619.3,754.0 C619.2,744.7 615.0,734.7 608.2,732.8 Z" fill="#fff" stroke="#2a2a2a" stroke-width="1.0" />
<path d="M615.9,732.8 C621.0,738.2 623.9,746.1 629.9,754.0 C629.6,744.1 623.9,732.9 615.9,732.8 Z" fill="#fff" stroke="#2a2a2a" stroke-width="1.0" />
<path d="M623.5,732.8 C630.7,737.4 633.4,745.5 639.4,754.0 C639.3,743.6 632.5,731.4 623.5,732.8 Z" fill="#fff" stroke="#2a2a2a" stroke-width="1.0" />
<path d="M631.2,732.8 C640.1,736.5 642.4,745.0 648.2,754.0 C648.6,743.2 641.0,730.2 631.2,732.8 Z" fill="#fff" stroke="#2a2a2a" stroke-width="1.0" />
<rect x="544.1" y="754.0" width="105.2" height="8.5" rx="0" fill="none" stroke="#2a2a2a" stroke-width="0.9"/>
<path d="M580.3,762.4 Q597.0,775.6 613.7,762.4" fill="none" stroke="#2a2a2a" stroke-width="0.8" />
<line x1="604.3" y1="683.0" x2="673.0" y2="683.0" stroke="#2a2a2a" stroke-width="0.6" />
<line x1="613.0" y1="769.0" x2="673.0" y2="769.0" stroke="#2a2a2a" stroke-width="0.6" />
<line x1="671.0" y1="683.0" x2="671.0" y2="769.0" stroke="#2a2a2a" stroke-width="0.8" />
<polygon points="671.0,683.0 668.8,689.0 673.2,689.0" fill="#2a2a2a"/>
<polygon points="671.0,769.0 668.8,763.0 673.2,763.0" fill="#2a2a2a"/>
<text x="665.5" y="722.4" font-size="11" fill="#444" text-anchor="middle" dominant-baseline="central" letter-spacing="0" transform="rotate(-90 665.5 722.4)">198</text>
<line x1="545.2" y1="762.4" x2="545.2" y2="787.0" stroke="#2a2a2a" stroke-width="0.6" />
<line x1="649.0" y1="762.4" x2="649.0" y2="787.0" stroke="#2a2a2a" stroke-width="0.6" />
<line x1="545.2" y1="784.3" x2="649.0" y2="784.3" stroke="#2a2a2a" stroke-width="0.8" />
<polygon points="545.2,784.3 551.2,782.1 551.2,786.5" fill="#2a2a2a"/>
<polygon points="649.0,784.3 643.0,782.1 643.0,786.5" fill="#2a2a2a"/>
<text x="599.0" y="777.9" font-size="10.6" fill="#444" text-anchor="middle" dominant-baseline="central" letter-spacing="0.25">Φ<tspan dx="1.8">240</tspan></text>
<text x="600.5" y="807.0" font-size="16.3" fill="#d42020" text-anchor="middle" dominant-baseline="central" letter-spacing="1.4">带应急</text>
<rect x="139.9" y="868.1" width="138.4" height="13.3" rx="0" fill="none" stroke="#2a2a2a" stroke-width="0.9"/>
<line x1="141.4" y1="869.7" x2="276.8" y2="869.7" stroke="#2a2a2a" stroke-width="0.45" />
<line x1="138.9" y1="874.8" x2="280.3" y2="874.8" stroke="#2a2a2a" stroke-width="0.6" stroke-dasharray="5 1.2 1 1.2"/>
<rect x="150.8" y="872.0" width="7.5" height="5.5" rx="2.75" fill="none" stroke="#2a2a2a" stroke-width="0.8"/>
<rect x="247.9" y="872.0" width="7.5" height="5.5" rx="2.75" fill="none" stroke="#2a2a2a" stroke-width="0.8"/>
<line x1="154.5" y1="871.8" x2="154.5" y2="877.8" stroke="#2a2a2a" stroke-width="0.5" />
<line x1="251.7" y1="871.8" x2="251.7" y2="877.8" stroke="#2a2a2a" stroke-width="0.5" />
<line x1="154.5" y1="861.5" x2="154.5" y2="872.2" stroke="#2a2a2a" stroke-width="0.6" />
<line x1="251.7" y1="861.5" x2="251.7" y2="872.2" stroke="#2a2a2a" stroke-width="0.6" />
<line x1="154.5" y1="863.0" x2="251.7" y2="863.0" stroke="#2a2a2a" stroke-width="0.7" />
<polygon points="154.5,863.0 158.5,861.7 158.5,864.3" fill="#2a2a2a"/>
<polygon points="251.7,863.0 247.7,861.7 247.7,864.3" fill="#2a2a2a"/>
<text x="206.0" y="859.0" font-size="9.5" fill="#444" text-anchor="middle" dominant-baseline="central">120</text>
<line x1="202.1" y1="866.6" x2="202.1" y2="882.4" stroke="#2a2a2a" stroke-width="0.6" />
<ellipse cx="201.1" cy="874.8" rx="3.2" ry="1.7" transform="rotate(52 201.1 874.8)" fill="none" stroke="#2a2a2a" stroke-width="0.8"/>
<line x1="200.2" y1="871.0" x2="216.4" y2="889.0" stroke="#2a2a2a" stroke-width="0.7" />
<line x1="216.4" y1="889.0" x2="237.4" y2="889.0" stroke="#2a2a2a" stroke-width="0.7" />
<text x="227.4" y="885.2" font-size="9.2" fill="#444" text-anchor="middle" dominant-baseline="central">Φ<tspan dx="1.5">13</tspan></text>
<line x1="143.1" y1="868.1" x2="143.1" y2="881.4" stroke="#2a2a2a" stroke-width="0.6" />
<line x1="146.0" y1="868.1" x2="146.0" y2="881.4" stroke="#2a2a2a" stroke-width="0.5" />
<line x1="139.3" y1="870.5" x2="139.3" y2="879.0" stroke="#2a2a2a" stroke-width="0.6" />
<text x="134.0" y="874.3" font-size="9.2" fill="#444" text-anchor="middle" dominant-baseline="central" transform="rotate(-90 134.0 874.3)">12</text>
<line x1="266.0" y1="868.1" x2="266.0" y2="881.4" stroke="#2a2a2a" stroke-width="0.6" />
<text x="271.2" y="874.8" font-size="9.2" fill="#444" text-anchor="middle" dominant-baseline="central" transform="rotate(-90 271.2 874.8)">40</text>
<rect x="148.8" y="874.0" width="11.4" height="9.0" rx="0" fill="none" stroke="#2a2a2a" stroke-width="0.8"/>
<line x1="148.8" y1="883.3" x2="160.2" y2="883.3" stroke="#2a2a2a" stroke-width="0.6" />
<text x="155.0" y="887.5" font-size="9.2" fill="#444" text-anchor="middle" dominant-baseline="central">22</text>
<polyline points="140.4,1005.3 140.4,927.1 164.4,901.4 240.6,901.4 264.6,927.1 264.6,1005.3" fill="none" stroke="#2a2a2a" stroke-width="0.85" stroke-linejoin="round"/>
<polyline points="142.3,1005.3 142.3,927.9 165.3,903.3 239.7,903.3 262.7,927.9 262.7,1005.3" fill="none" stroke="#2a2a2a" stroke-width="0.85" stroke-linejoin="round"/>
<line x1="140.4" y1="1005.3" x2="142.3" y2="1005.3" stroke="#2a2a2a" stroke-width="0.8" />
<line x1="264.6" y1="1005.3" x2="262.7" y2="1005.3" stroke="#2a2a2a" stroke-width="0.8" />
<rect x="194.8" y="912.5" width="16.0" height="10.7" rx="0" fill="none" stroke="#2a2a2a" stroke-width="0.9"/>
<line x1="199.2" y1="912.5" x2="199.2" y2="923.2" stroke="#2a2a2a" stroke-width="0.6" />
<line x1="206.4" y1="912.5" x2="206.4" y2="923.2" stroke="#2a2a2a" stroke-width="0.6" />
<line x1="195.3" y1="923.2" x2="185.8" y2="937.5" stroke="#2a2a2a" stroke-width="0.9" />
<line x1="210.3" y1="923.2" x2="219.8" y2="937.5" stroke="#2a2a2a" stroke-width="0.9" />
<line x1="197.3" y1="923.2" x2="188.3" y2="937.5" stroke="#2a2a2a" stroke-width="0.6" />
<line x1="208.3" y1="923.2" x2="217.3" y2="937.5" stroke="#2a2a2a" stroke-width="0.6" />
<rect x="199.6" y="924.2" width="6.4" height="17.5" rx="3" fill="none" stroke="#2a2a2a" stroke-width="0.8"/>
<line x1="199.6" y1="934.5" x2="206.0" y2="934.5" stroke="#2a2a2a" stroke-width="0.6" />
<circle cx="207.6" cy="924.2" r="1.8" fill="none" stroke="#2a2a2a" stroke-width="0.8"/>
<circle cx="205.6" cy="929.4" r="1.1" fill="#2a2a2a"/>
<rect x="182.3" y="937.5" width="41.0" height="6.2" rx="0" fill="none" stroke="#2a2a2a" stroke-width="0.9"/>
<line x1="182.3" y1="942.5" x2="223.3" y2="942.5" stroke="#2a2a2a" stroke-width="0.5" />
<rect x="219.3" y="935.0" width="4.5" height="8.8" rx="0" fill="none" stroke="#2a2a2a" stroke-width="0.7"/>
<line x1="186.3" y1="937.5" x2="186.3" y2="943.8" stroke="#2a2a2a" stroke-width="0.6" />
<path d="M171.6,953.6 L177.8,944.2 L227.8,944.2 L234.1,953.6" fill="none" stroke="#2a2a2a" stroke-width="0.9" />
<line x1="184.1" y1="946.2" x2="177.6" y2="952.8" stroke="#2a2a2a" stroke-width="0.8" />
<line x1="185.6" y1="946.2" x2="179.1" y2="952.8" stroke="#2a2a2a" stroke-width="0.5" />
<line x1="190.3" y1="946.2" x2="185.0" y2="952.8" stroke="#2a2a2a" stroke-width="0.8" />
<line x1="191.8" y1="946.2" x2="186.5" y2="952.8" stroke="#2a2a2a" stroke-width="0.5" />
<line x1="196.6" y1="946.2" x2="192.4" y2="952.8" stroke="#2a2a2a" stroke-width="0.8" />
<line x1="198.1" y1="946.2" x2="193.9" y2="952.8" stroke="#2a2a2a" stroke-width="0.5" />
<line x1="209.1" y1="946.2" x2="213.2" y2="952.8" stroke="#2a2a2a" stroke-width="0.8" />
<line x1="210.6" y1="946.2" x2="214.7" y2="952.8" stroke="#2a2a2a" stroke-width="0.5" />
<line x1="215.3" y1="946.2" x2="220.6" y2="952.8" stroke="#2a2a2a" stroke-width="0.8" />
<line x1="216.8" y1="946.2" x2="222.1" y2="952.8" stroke="#2a2a2a" stroke-width="0.5" />
<line x1="221.6" y1="946.2" x2="228.0" y2="952.8" stroke="#2a2a2a" stroke-width="0.8" />
<line x1="223.1" y1="946.2" x2="229.5" y2="952.8" stroke="#2a2a2a" stroke-width="0.5" />
<ellipse cx="202.8" cy="949.2" rx="2.6" ry="1.8" fill="none" stroke="#2a2a2a" stroke-width="0.8"/>
<line x1="196.6" y1="946.7" x2="196.6" y2="953.6" stroke="#2a2a2a" stroke-width="0.6" />
<line x1="209.1" y1="946.7" x2="209.1" y2="953.6" stroke="#2a2a2a" stroke-width="0.6" />
<rect x="171.6" y="953.6" width="62.5" height="5.3" rx="0" fill="none" stroke="#2a2a2a" stroke-width="0.9"/>
<line x1="171.6" y1="955.0" x2="234.1" y2="955.0" stroke="#2a2a2a" stroke-width="0.5" />
<path d="M172.1,958.9 L172.1,973.3 Q172.1,976.8 176.1,976.8 L229.6,976.8 Q233.6,976.8 233.6,973.3 L233.6,958.9" fill="none" stroke="#2a2a2a" stroke-width="0.9" />
<line x1="178.9" y1="959.4" x2="178.9" y2="976.3" stroke="#2a2a2a" stroke-width="0.8" />
<line x1="180.5" y1="959.4" x2="180.5" y2="976.3" stroke="#2a2a2a" stroke-width="0.5" />
<line x1="185.7" y1="959.4" x2="185.7" y2="976.3" stroke="#2a2a2a" stroke-width="0.8" />
<line x1="187.3" y1="959.4" x2="187.3" y2="976.3" stroke="#2a2a2a" stroke-width="0.5" />
<line x1="192.6" y1="959.4" x2="192.6" y2="976.3" stroke="#2a2a2a" stroke-width="0.8" />
<line x1="194.2" y1="959.4" x2="194.2" y2="976.3" stroke="#2a2a2a" stroke-width="0.5" />
<line x1="199.4" y1="959.4" x2="199.4" y2="976.3" stroke="#2a2a2a" stroke-width="0.8" />
<line x1="201.0" y1="959.4" x2="201.0" y2="976.3" stroke="#2a2a2a" stroke-width="0.5" />
<line x1="206.2" y1="959.4" x2="206.2" y2="976.3" stroke="#2a2a2a" stroke-width="0.8" />
<line x1="207.8" y1="959.4" x2="207.8" y2="976.3" stroke="#2a2a2a" stroke-width="0.5" />
<line x1="213.1" y1="959.4" x2="213.1" y2="976.3" stroke="#2a2a2a" stroke-width="0.8" />
<line x1="214.7" y1="959.4" x2="214.7" y2="976.3" stroke="#2a2a2a" stroke-width="0.5" />
<line x1="219.9" y1="959.4" x2="219.9" y2="976.3" stroke="#2a2a2a" stroke-width="0.8" />
<line x1="221.5" y1="959.4" x2="221.5" y2="976.3" stroke="#2a2a2a" stroke-width="0.5" />
<line x1="226.7" y1="959.4" x2="226.7" y2="976.3" stroke="#2a2a2a" stroke-width="0.8" />
<line x1="228.3" y1="959.4" x2="228.3" y2="976.3" stroke="#2a2a2a" stroke-width="0.5" />
<line x1="210.8" y1="912.5" x2="281.0" y2="912.5" stroke="#2a2a2a" stroke-width="0.6" />
<line x1="159.6" y1="992.6" x2="245.4" y2="992.6" stroke="#2a2a2a" stroke-width="0.6" />
<line x1="156.5" y1="999.6" x2="248.5" y2="999.6" stroke="#2a2a2a" stroke-width="0.6" />
<line x1="164.5" y1="978.4" x2="240.5" y2="978.4" stroke="#2a2a2a" stroke-width="0.8" />
<line x1="165.5" y1="979.7" x2="239.5" y2="979.7" stroke="#2a2a2a" stroke-width="0.5" />
<path d="M166.5,979.2 C153.3,976.8 143.9,991.7 143.2,1004.3 C150.0,993.6 154.1,983.1 166.5,979.2 Z" fill="#fff" stroke="#2a2a2a" stroke-width="1.0" />
<path d="M172.5,979.2 C160.5,977.8 151.8,992.0 150.8,1004.3 C157.7,994.1 161.9,984.0 172.5,979.2 Z" fill="#fff" stroke="#2a2a2a" stroke-width="1.0" />
<path d="M178.5,979.2 C167.8,979.0 160.0,992.4 158.8,1004.3 C165.7,994.6 169.9,984.8 178.5,979.2 Z" fill="#fff" stroke="#2a2a2a" stroke-width="1.0" />
<path d="M184.5,979.2 C175.1,980.3 168.4,992.9 167.2,1004.3 C174.1,995.1 178.1,985.6 184.5,979.2 Z" fill="#fff" stroke="#2a2a2a" stroke-width="1.0" />
<path d="M190.5,979.2 C182.5,981.9 177.3,993.4 176.5,1004.3 C182.9,995.5 186.6,986.2 190.5,979.2 Z" fill="#fff" stroke="#2a2a2a" stroke-width="1.0" />
<path d="M196.5,979.2 C190.3,983.9 187.0,994.2 187.0,1004.3 C192.6,995.8 195.4,986.6 196.5,979.2 Z" fill="#fff" stroke="#2a2a2a" stroke-width="1.0" />
<path d="M202.5,979.2 C199.7,986.9 199.7,995.8 202.5,1004.3 C205.3,995.8 205.3,986.9 202.5,979.2 Z" fill="#fff" stroke="#2a2a2a" stroke-width="1.0" />
<path d="M208.5,979.2 C209.6,986.6 212.4,995.8 218.0,1004.3 C218.0,994.2 214.7,983.9 208.5,979.2 Z" fill="#fff" stroke="#2a2a2a" stroke-width="1.0" />
<path d="M214.5,979.2 C218.4,986.2 222.1,995.5 228.5,1004.3 C227.7,993.4 222.5,981.9 214.5,979.2 Z" fill="#fff" stroke="#2a2a2a" stroke-width="1.0" />
<path d="M220.5,979.2 C226.9,985.6 230.9,995.1 237.8,1004.3 C236.6,992.9 229.9,980.3 220.5,979.2 Z" fill="#fff" stroke="#2a2a2a" stroke-width="1.0" />
<path d="M226.5,979.2 C235.1,984.8 239.3,994.6 246.2,1004.3 C245.0,992.4 237.2,979.0 226.5,979.2 Z" fill="#fff" stroke="#2a2a2a" stroke-width="1.0" />
<path d="M232.5,979.2 C243.1,984.0 247.3,994.1 254.2,1004.3 C253.2,992.0 244.5,977.8 232.5,979.2 Z" fill="#fff" stroke="#2a2a2a" stroke-width="1.0" />
<path d="M238.5,979.2 C250.9,983.1 255.0,993.6 261.8,1004.3 C261.1,991.7 251.7,976.8 238.5,979.2 Z" fill="#fff" stroke="#2a2a2a" stroke-width="1.0" />
<rect x="141.4" y="1004.3" width="122.0" height="8.5" rx="0" fill="none" stroke="#2a2a2a" stroke-width="0.9"/>
<line x1="263.4" y1="1012.8" x2="281.0" y2="1012.8" stroke="#2a2a2a" stroke-width="0.6" />
<line x1="278.6" y1="912.5" x2="278.6" y2="1012.8" stroke="#2a2a2a" stroke-width="0.8" />
<polygon points="278.6,912.5 276.4,918.5 280.8,918.5" fill="#2a2a2a"/>
<polygon points="278.6,1012.8 276.4,1006.8 280.8,1006.8" fill="#2a2a2a"/>
<text x="272.2" y="958.0" font-size="11" fill="#444" text-anchor="middle" dominant-baseline="central" letter-spacing="0" transform="rotate(-90 272.2 958.0)">247.5</text>
<line x1="141.4" y1="1012.8" x2="141.4" y2="1032.0" stroke="#2a2a2a" stroke-width="0.6" />
<line x1="263.4" y1="1012.8" x2="263.4" y2="1032.0" stroke="#2a2a2a" stroke-width="0.6" />
<line x1="141.4" y1="1030.0" x2="263.4" y2="1030.0" stroke="#2a2a2a" stroke-width="0.8" />
<polygon points="141.4,1030.0 147.4,1027.8 147.4,1032.2" fill="#2a2a2a"/>
<polygon points="263.4,1030.0 257.4,1027.8 257.4,1032.2" fill="#2a2a2a"/>
<text x="206.6" y="1023.9" font-size="10.6" fill="#444" text-anchor="middle" dominant-baseline="central" letter-spacing="0.25">Φ<tspan dx="1.8">300</tspan></text>
<text x="206.7" y="1045.0" font-size="16.3" fill="#d42020" text-anchor="middle" dominant-baseline="central" letter-spacing="1.4">III 型</text>
<rect x="376.7" y="904.2" width="16.6" height="11.6" rx="0" fill="none" stroke="#2a2a2a" stroke-width="0.9"/>
<line x1="380.4" y1="915.8" x2="383.3" y2="905.7" stroke="#2a2a2a" stroke-width="0.7" />
<line x1="385.0" y1="906.2" x2="385.0" y2="915.8" stroke="#2a2a2a" stroke-width="0.6" />
<line x1="388.7" y1="904.2" x2="388.7" y2="915.8" stroke="#2a2a2a" stroke-width="0.8" />
<line x1="390.8" y1="904.2" x2="390.8" y2="915.8" stroke="#2a2a2a" stroke-width="0.6" />
<path d="M338.3,925.3 L365.8,915.8 L404.2,915.8 L431.7,925.3" fill="none" stroke="#2a2a2a" stroke-width="0.9" />
<rect x="324.2" y="925.3" width="121.6" height="7.2" rx="0" fill="none" stroke="#2a2a2a" stroke-width="0.9"/>
<line x1="324.2" y1="928.1" x2="445.8" y2="928.1" stroke="#2a2a2a" stroke-width="0.6" />
<line x1="338.3" y1="925.3" x2="338.3" y2="932.5" stroke="#2a2a2a" stroke-width="0.6" />
<line x1="431.7" y1="925.3" x2="431.7" y2="932.5" stroke="#2a2a2a" stroke-width="0.6" />
<path d="M324.2,932.5 L330.4,958.0 L439.6,958.0 L445.8,932.5" fill="none" stroke="#2a2a2a" stroke-width="0.9" />
<line x1="333.5" y1="932.5" x2="333.5" y2="958.0" stroke="#2a2a2a" stroke-width="0.8" />
<line x1="346.6" y1="932.5" x2="346.6" y2="958.0" stroke="#2a2a2a" stroke-width="0.8" />
<line x1="355.3" y1="932.5" x2="355.3" y2="958.0" stroke="#2a2a2a" stroke-width="0.8" />
<line x1="368.4" y1="932.5" x2="368.4" y2="958.0" stroke="#2a2a2a" stroke-width="0.8" />
<line x1="378.3" y1="932.5" x2="378.3" y2="958.0" stroke="#2a2a2a" stroke-width="0.8" />
<line x1="379.7" y1="932.5" x2="379.7" y2="958.0" stroke="#2a2a2a" stroke-width="0.6" />
<line x1="387.0" y1="932.5" x2="387.0" y2="958.0" stroke="#2a2a2a" stroke-width="0.8" />
<line x1="388.4" y1="932.5" x2="388.4" y2="958.0" stroke="#2a2a2a" stroke-width="0.6" />
<line x1="395.7" y1="932.5" x2="395.7" y2="958.0" stroke="#2a2a2a" stroke-width="0.8" />
<line x1="397.1" y1="932.5" x2="397.1" y2="958.0" stroke="#2a2a2a" stroke-width="0.6" />
<line x1="408.8" y1="932.5" x2="408.8" y2="958.0" stroke="#2a2a2a" stroke-width="0.8" />
<line x1="417.6" y1="932.5" x2="417.6" y2="958.0" stroke="#2a2a2a" stroke-width="0.8" />
<line x1="432.9" y1="932.5" x2="432.9" y2="958.0" stroke="#2a2a2a" stroke-width="0.8" />
<line x1="336.0" y1="974.9" x2="434.0" y2="974.9" stroke="#2a2a2a" stroke-width="0.6" />
<line x1="331.7" y1="983.3" x2="438.3" y2="983.3" stroke="#2a2a2a" stroke-width="0.6" />
<line x1="346.0" y1="958.0" x2="424.0" y2="958.0" stroke="#2a2a2a" stroke-width="0.8" />
<line x1="347.0" y1="959.3" x2="423.0" y2="959.3" stroke="#2a2a2a" stroke-width="0.5" />
<path d="M348.0,958.8 C329.9,956.7 317.9,973.8 315.7,988.8 C323.9,976.1 330.6,963.0 348.0,958.8 Z" fill="#fff" stroke="#2a2a2a" stroke-width="1.0" />
<path d="M354.7,958.8 C338.9,958.0 327.9,974.3 325.4,988.8 C333.7,976.7 340.2,964.2 354.7,958.8 Z" fill="#fff" stroke="#2a2a2a" stroke-width="1.0" />
<path d="M361.5,958.8 C348.0,959.5 338.3,974.8 335.6,988.8 C343.9,977.3 350.0,965.3 361.5,958.8 Z" fill="#fff" stroke="#2a2a2a" stroke-width="1.0" />
<path d="M368.2,958.8 C357.0,961.2 349.0,975.5 346.6,988.8 C354.6,977.8 360.1,966.3 368.2,958.8 Z" fill="#fff" stroke="#2a2a2a" stroke-width="1.0" />
<path d="M374.9,958.8 C366.2,963.2 360.4,976.3 358.9,988.8 C365.9,978.4 370.5,967.2 374.9,958.8 Z" fill="#fff" stroke="#2a2a2a" stroke-width="1.0" />
<path d="M381.6,958.8 C376.0,966.1 373.2,977.4 373.5,988.8 C378.8,978.7 381.4,967.8 381.6,958.8 Z" fill="#fff" stroke="#2a2a2a" stroke-width="1.0" />
<path d="M388.4,958.8 C388.6,967.8 391.2,978.7 396.5,988.8 C396.8,977.4 394.0,966.1 388.4,958.8 Z" fill="#fff" stroke="#2a2a2a" stroke-width="1.0" />
<path d="M395.1,958.8 C399.5,967.2 404.1,978.4 411.1,988.8 C409.6,976.3 403.8,963.2 395.1,958.8 Z" fill="#fff" stroke="#2a2a2a" stroke-width="1.0" />
<path d="M401.8,958.8 C409.9,966.3 415.4,977.8 423.4,988.8 C421.0,975.5 413.0,961.2 401.8,958.8 Z" fill="#fff" stroke="#2a2a2a" stroke-width="1.0" />
<path d="M408.5,958.8 C420.0,965.3 426.1,977.3 434.4,988.8 C431.7,974.8 422.0,959.5 408.5,958.8 Z" fill="#fff" stroke="#2a2a2a" stroke-width="1.0" />
<path d="M415.3,958.8 C429.8,964.2 436.3,976.7 444.6,988.8 C442.1,974.3 431.1,958.0 415.3,958.8 Z" fill="#fff" stroke="#2a2a2a" stroke-width="1.0" />
<path d="M422.0,958.8 C439.4,963.0 446.1,976.1 454.3,988.8 C452.1,973.8 440.1,956.7 422.0,958.8 Z" fill="#fff" stroke="#2a2a2a" stroke-width="1.0" />
<rect x="311.5" y="988.8" width="147.0" height="11.1" rx="0" fill="none" stroke="#2a2a2a" stroke-width="0.9"/>
<line x1="395.0" y1="903.8" x2="478.0" y2="903.8" stroke="#2a2a2a" stroke-width="0.6" />
<line x1="385.0" y1="999.9" x2="478.0" y2="999.9" stroke="#2a2a2a" stroke-width="0.6" />
<line x1="475.3" y1="903.8" x2="475.3" y2="999.9" stroke="#2a2a2a" stroke-width="0.8" />
<polygon points="475.3,903.8 473.1,909.8 477.5,909.8" fill="#2a2a2a"/>
<polygon points="475.3,999.9 473.1,993.9 477.5,993.9" fill="#2a2a2a"/>
<text x="470.2" y="946.7" font-size="11" fill="#444" text-anchor="middle" dominant-baseline="central" letter-spacing="0" transform="rotate(-90 470.2 946.7)">198</text>
<line x1="311.3" y1="999.9" x2="311.3" y2="1033.0" stroke="#2a2a2a" stroke-width="0.6" />
<line x1="458.3" y1="999.9" x2="458.3" y2="1033.0" stroke="#2a2a2a" stroke-width="0.6" />
<line x1="311.3" y1="1030.4" x2="458.3" y2="1030.4" stroke="#2a2a2a" stroke-width="0.8" />
<polygon points="311.3,1030.4 317.3,1028.2 317.3,1032.6" fill="#2a2a2a"/>
<polygon points="458.3,1030.4 452.3,1028.2 452.3,1032.6" fill="#2a2a2a"/>
<text x="388.2" y="1025.1" font-size="10.6" fill="#444" text-anchor="middle" dominant-baseline="central" letter-spacing="0.25">Φ<tspan dx="1.8">300</tspan></text>
<text x="382.6" y="1046.0" font-size="16.3" fill="#d42020" text-anchor="middle" dominant-baseline="central" letter-spacing="1.4">带应急</text>
<rect x="557.5" y="856.7" width="150.7" height="13.7" rx="0" fill="none" stroke="#2a2a2a" stroke-width="0.9"/>
<line x1="559.0" y1="858.3" x2="706.7" y2="858.3" stroke="#2a2a2a" stroke-width="0.45" />
<line x1="556.5" y1="863.5" x2="710.2" y2="863.5" stroke="#2a2a2a" stroke-width="0.6" stroke-dasharray="5 1.2 1 1.2"/>
<rect x="576.8" y="860.8" width="7.5" height="5.5" rx="2.75" fill="none" stroke="#2a2a2a" stroke-width="0.8"/>
<rect x="674.0" y="860.8" width="7.5" height="5.5" rx="2.75" fill="none" stroke="#2a2a2a" stroke-width="0.8"/>
<line x1="580.5" y1="860.5" x2="580.5" y2="866.5" stroke="#2a2a2a" stroke-width="0.5" />
<line x1="677.7" y1="860.5" x2="677.7" y2="866.5" stroke="#2a2a2a" stroke-width="0.5" />
<line x1="580.5" y1="849.9" x2="580.5" y2="861.0" stroke="#2a2a2a" stroke-width="0.6" />
<line x1="677.7" y1="849.9" x2="677.7" y2="861.0" stroke="#2a2a2a" stroke-width="0.6" />
<line x1="580.5" y1="851.4" x2="677.7" y2="851.4" stroke="#2a2a2a" stroke-width="0.7" />
<polygon points="580.5,851.4 584.5,850.1 584.5,852.7" fill="#2a2a2a"/>
<polygon points="677.7,851.4 673.7,850.1 673.7,852.7" fill="#2a2a2a"/>
<text x="630.5" y="847.4" font-size="9.5" fill="#444" text-anchor="middle" dominant-baseline="central">120</text>
<line x1="628.6" y1="855.2" x2="628.6" y2="871.4" stroke="#2a2a2a" stroke-width="0.6" />
<ellipse cx="627.6" cy="863.5" rx="3.2" ry="1.7" transform="rotate(52 627.6 863.5)" fill="none" stroke="#2a2a2a" stroke-width="0.8"/>
<line x1="626.6" y1="859.6" x2="641.4" y2="879.3" stroke="#2a2a2a" stroke-width="0.7" />
<line x1="641.4" y1="879.3" x2="661.0" y2="879.3" stroke="#2a2a2a" stroke-width="0.7" />
<text x="651.2" y="874.3" font-size="9.2" fill="#444" text-anchor="middle" dominant-baseline="central">Φ<tspan dx="1.5">13</tspan></text>
<line x1="560.8" y1="856.7" x2="560.8" y2="870.4" stroke="#2a2a2a" stroke-width="0.6" />
<line x1="571.6" y1="859.0" x2="571.6" y2="868.0" stroke="#2a2a2a" stroke-width="0.6" />
<text x="565.8" y="863.5" font-size="9.2" fill="#444" text-anchor="middle" dominant-baseline="central" transform="rotate(-90 565.8 863.5)">12</text>
<line x1="692.4" y1="856.7" x2="692.4" y2="870.4" stroke="#2a2a2a" stroke-width="0.6" />
<text x="701.7" y="863.5" font-size="9.2" fill="#444" text-anchor="middle" dominant-baseline="central" transform="rotate(-90 701.7 863.5)">40</text>
<rect x="576.5" y="866.0" width="9.8" height="6.4" rx="0" fill="none" stroke="#2a2a2a" stroke-width="0.8"/>
<text x="580.5" y="878.2" font-size="9.2" fill="#444" text-anchor="middle" dominant-baseline="central">22</text>
<polyline points="558.0,1002.9 558.0,914.6 584.0,889.3 670.0,889.3 696.0,914.6 696.0,1002.9" fill="none" stroke="#2a2a2a" stroke-width="0.85" stroke-linejoin="round"/>
<polyline points="559.9,1002.9 559.9,915.4 585.0,891.2 669.0,891.2 694.1,915.4 694.1,1002.9" fill="none" stroke="#2a2a2a" stroke-width="0.85" stroke-linejoin="round"/>
<line x1="558.0" y1="1002.9" x2="559.9" y2="1002.9" stroke="#2a2a2a" stroke-width="0.8" />
<line x1="696.0" y1="1002.9" x2="694.1" y2="1002.9" stroke="#2a2a2a" stroke-width="0.8" />
<rect x="619.4" y="906.2" width="15.0" height="9.4" rx="0" fill="none" stroke="#2a2a2a" stroke-width="0.9"/>
<line x1="623.5" y1="906.2" x2="623.5" y2="915.6" stroke="#2a2a2a" stroke-width="0.6" />
<line x1="630.3" y1="906.2" x2="630.3" y2="915.6" stroke="#2a2a2a" stroke-width="0.6" />
<line x1="619.9" y1="915.6" x2="609.5" y2="931.2" stroke="#2a2a2a" stroke-width="0.9" />
<line x1="633.9" y1="915.6" x2="644.3" y2="931.2" stroke="#2a2a2a" stroke-width="0.9" />
<line x1="621.9" y1="915.6" x2="612.0" y2="931.2" stroke="#2a2a2a" stroke-width="0.6" />
<line x1="631.9" y1="915.6" x2="641.8" y2="931.2" stroke="#2a2a2a" stroke-width="0.6" />
<rect x="623.7" y="916.6" width="6.4" height="18.6" rx="3" fill="none" stroke="#2a2a2a" stroke-width="0.8"/>
<line x1="623.7" y1="927.6" x2="630.1" y2="927.6" stroke="#2a2a2a" stroke-width="0.6" />
<circle cx="631.4" cy="916.6" r="1.8" fill="none" stroke="#2a2a2a" stroke-width="0.8"/>
<circle cx="629.5" cy="922.2" r="1.1" fill="#2a2a2a"/>
<rect x="606.0" y="931.2" width="41.8" height="6.2" rx="0" fill="none" stroke="#2a2a2a" stroke-width="0.9"/>
<line x1="606.0" y1="936.2" x2="647.8" y2="936.2" stroke="#2a2a2a" stroke-width="0.5" />
<rect x="643.8" y="928.8" width="4.5" height="8.8" rx="0" fill="none" stroke="#2a2a2a" stroke-width="0.7"/>
<line x1="610.0" y1="931.2" x2="610.0" y2="937.5" stroke="#2a2a2a" stroke-width="0.6" />
<path d="M587.9,946.2 L595.6,938.0 L658.1,938.0 L665.9,946.2" fill="none" stroke="#2a2a2a" stroke-width="0.9" />
<line x1="602.8" y1="939.7" x2="595.4" y2="945.5" stroke="#2a2a2a" stroke-width="0.8" />
<line x1="604.3" y1="939.7" x2="596.9" y2="945.5" stroke="#2a2a2a" stroke-width="0.5" />
<line x1="610.6" y1="939.7" x2="604.7" y2="945.5" stroke="#2a2a2a" stroke-width="0.8" />
<line x1="612.1" y1="939.7" x2="606.2" y2="945.5" stroke="#2a2a2a" stroke-width="0.5" />
<line x1="618.5" y1="939.7" x2="613.9" y2="945.5" stroke="#2a2a2a" stroke-width="0.8" />
<line x1="620.0" y1="939.7" x2="615.4" y2="945.5" stroke="#2a2a2a" stroke-width="0.5" />
<line x1="635.3" y1="939.7" x2="639.9" y2="945.5" stroke="#2a2a2a" stroke-width="0.8" />
<line x1="636.8" y1="939.7" x2="641.4" y2="945.5" stroke="#2a2a2a" stroke-width="0.5" />
<line x1="643.1" y1="939.7" x2="649.1" y2="945.5" stroke="#2a2a2a" stroke-width="0.8" />
<line x1="644.6" y1="939.7" x2="650.6" y2="945.5" stroke="#2a2a2a" stroke-width="0.5" />
<line x1="651.0" y1="939.7" x2="658.4" y2="945.5" stroke="#2a2a2a" stroke-width="0.8" />
<line x1="652.5" y1="939.7" x2="659.9" y2="945.5" stroke="#2a2a2a" stroke-width="0.5" />
<ellipse cx="626.9" cy="942.3" rx="2.6" ry="1.8" fill="none" stroke="#2a2a2a" stroke-width="0.8"/>
<line x1="619.1" y1="940.1" x2="619.1" y2="946.2" stroke="#2a2a2a" stroke-width="0.6" />
<line x1="634.7" y1="940.1" x2="634.7" y2="946.2" stroke="#2a2a2a" stroke-width="0.6" />
<rect x="587.9" y="946.2" width="78.0" height="5.0" rx="0" fill="none" stroke="#2a2a2a" stroke-width="0.9"/>
<line x1="587.9" y1="947.6" x2="665.9" y2="947.6" stroke="#2a2a2a" stroke-width="0.5" />
<path d="M588.4,951.2 L588.4,966.5 Q588.4,970.0 592.4,970.0 L661.4,970.0 Q665.4,970.0 665.4,966.5 L665.4,951.2" fill="none" stroke="#2a2a2a" stroke-width="0.9" />
<line x1="595.4" y1="951.8" x2="595.4" y2="969.5" stroke="#2a2a2a" stroke-width="0.8" />
<line x1="597.0" y1="951.8" x2="597.0" y2="969.5" stroke="#2a2a2a" stroke-width="0.5" />
<line x1="602.4" y1="951.8" x2="602.4" y2="969.5" stroke="#2a2a2a" stroke-width="0.8" />
<line x1="604.0" y1="951.8" x2="604.0" y2="969.5" stroke="#2a2a2a" stroke-width="0.5" />
<line x1="609.4" y1="951.8" x2="609.4" y2="969.5" stroke="#2a2a2a" stroke-width="0.8" />
<line x1="611.0" y1="951.8" x2="611.0" y2="969.5" stroke="#2a2a2a" stroke-width="0.5" />
<line x1="616.4" y1="951.8" x2="616.4" y2="969.5" stroke="#2a2a2a" stroke-width="0.8" />
<line x1="618.0" y1="951.8" x2="618.0" y2="969.5" stroke="#2a2a2a" stroke-width="0.5" />
<line x1="623.4" y1="951.8" x2="623.4" y2="969.5" stroke="#2a2a2a" stroke-width="0.8" />
<line x1="625.0" y1="951.8" x2="625.0" y2="969.5" stroke="#2a2a2a" stroke-width="0.5" />
<line x1="630.4" y1="951.8" x2="630.4" y2="969.5" stroke="#2a2a2a" stroke-width="0.8" />
<line x1="632.0" y1="951.8" x2="632.0" y2="969.5" stroke="#2a2a2a" stroke-width="0.5" />
<line x1="637.4" y1="951.8" x2="637.4" y2="969.5" stroke="#2a2a2a" stroke-width="0.8" />
<line x1="639.0" y1="951.8" x2="639.0" y2="969.5" stroke="#2a2a2a" stroke-width="0.5" />
<line x1="644.4" y1="951.8" x2="644.4" y2="969.5" stroke="#2a2a2a" stroke-width="0.8" />
<line x1="646.0" y1="951.8" x2="646.0" y2="969.5" stroke="#2a2a2a" stroke-width="0.5" />
<line x1="651.4" y1="951.8" x2="651.4" y2="969.5" stroke="#2a2a2a" stroke-width="0.8" />
<line x1="653.0" y1="951.8" x2="653.0" y2="969.5" stroke="#2a2a2a" stroke-width="0.5" />
<line x1="658.4" y1="951.8" x2="658.4" y2="969.5" stroke="#2a2a2a" stroke-width="0.8" />
<line x1="660.0" y1="951.8" x2="660.0" y2="969.5" stroke="#2a2a2a" stroke-width="0.5" />
<line x1="634.4" y1="906.2" x2="710.0" y2="906.2" stroke="#2a2a2a" stroke-width="0.6" />
<line x1="578.3" y1="987.4" x2="674.7" y2="987.4" stroke="#2a2a2a" stroke-width="0.6" />
<line x1="575.1" y1="995.3" x2="677.9" y2="995.3" stroke="#2a2a2a" stroke-width="0.6" />
<line x1="582.5" y1="971.2" x2="670.5" y2="971.2" stroke="#2a2a2a" stroke-width="0.8" />
<line x1="583.5" y1="972.5" x2="669.5" y2="972.5" stroke="#2a2a2a" stroke-width="0.5" />
<path d="M584.5,972.0 C570.9,969.8 561.3,986.5 560.5,1000.6 C567.5,988.3 571.7,976.1 584.5,972.0 Z" fill="#fff" stroke="#2a2a2a" stroke-width="1.0" />
<path d="M591.0,972.0 C578.4,970.9 569.4,986.8 568.3,1000.6 C575.4,988.8 579.8,977.0 591.0,972.0 Z" fill="#fff" stroke="#2a2a2a" stroke-width="1.0" />
<path d="M597.4,972.0 C586.0,972.1 577.8,987.3 576.4,1000.6 C583.6,989.3 588.1,977.9 597.4,972.0 Z" fill="#fff" stroke="#2a2a2a" stroke-width="1.0" />
<path d="M603.9,972.0 C593.7,973.4 586.4,987.7 585.0,1000.6 C592.2,989.8 596.6,978.7 603.9,972.0 Z" fill="#fff" stroke="#2a2a2a" stroke-width="1.0" />
<path d="M610.3,972.0 C601.4,974.9 595.5,988.3 594.3,1000.6 C601.1,990.3 605.4,979.5 610.3,972.0 Z" fill="#fff" stroke="#2a2a2a" stroke-width="1.0" />
<path d="M616.8,972.0 C609.5,976.8 605.2,988.9 604.5,1000.6 C610.7,990.7 614.3,980.1 616.8,972.0 Z" fill="#fff" stroke="#2a2a2a" stroke-width="1.0" />
<path d="M623.3,972.0 C618.2,979.2 616.0,989.9 616.9,1000.6 C621.6,991.0 623.7,980.6 623.3,972.0 Z" fill="#fff" stroke="#2a2a2a" stroke-width="1.0" />
<path d="M629.7,972.0 C629.3,980.6 631.4,991.0 636.1,1000.6 C637.0,989.9 634.8,979.2 629.7,972.0 Z" fill="#fff" stroke="#2a2a2a" stroke-width="1.0" />
<path d="M636.2,972.0 C638.7,980.1 642.3,990.7 648.5,1000.6 C647.8,988.9 643.5,976.8 636.2,972.0 Z" fill="#fff" stroke="#2a2a2a" stroke-width="1.0" />
<path d="M642.7,972.0 C647.6,979.5 651.9,990.3 658.7,1000.6 C657.5,988.3 651.6,974.9 642.7,972.0 Z" fill="#fff" stroke="#2a2a2a" stroke-width="1.0" />
<path d="M649.1,972.0 C656.4,978.7 660.8,989.8 668.0,1000.6 C666.6,987.7 659.3,973.4 649.1,972.0 Z" fill="#fff" stroke="#2a2a2a" stroke-width="1.0" />
<path d="M655.6,972.0 C664.9,977.9 669.4,989.3 676.6,1000.6 C675.2,987.3 667.0,972.1 655.6,972.0 Z" fill="#fff" stroke="#2a2a2a" stroke-width="1.0" />
<path d="M662.0,972.0 C673.2,977.0 677.6,988.8 684.7,1000.6 C683.6,986.8 674.6,970.9 662.0,972.0 Z" fill="#fff" stroke="#2a2a2a" stroke-width="1.0" />
<path d="M668.5,972.0 C681.3,976.1 685.5,988.3 692.5,1000.6 C691.7,986.5 682.1,969.8 668.5,972.0 Z" fill="#fff" stroke="#2a2a2a" stroke-width="1.0" />
<rect x="559.2" y="1000.6" width="136.8" height="6.8" rx="0" fill="none" stroke="#2a2a2a" stroke-width="0.9"/>
<path d="M611.4,1007.4 Q627.2,1023.2 643.0,1007.4" fill="none" stroke="#2a2a2a" stroke-width="0.8" />
<line x1="643.0" y1="1015.3" x2="711.0" y2="1015.3" stroke="#2a2a2a" stroke-width="0.6" />
<line x1="708.5" y1="906.2" x2="708.5" y2="1015.3" stroke="#2a2a2a" stroke-width="0.8" />
<polygon points="708.5,906.2 706.3,912.2 710.7,912.2" fill="#2a2a2a"/>
<polygon points="708.5,1015.3 706.3,1009.3 710.7,1009.3" fill="#2a2a2a"/>
<text x="703.0" y="958.8" font-size="11" fill="#444" text-anchor="middle" dominant-baseline="central" letter-spacing="0" transform="rotate(-90 703.0 958.8)">268.5</text>
<line x1="559.2" y1="1007.4" x2="559.2" y2="1030.0" stroke="#2a2a2a" stroke-width="0.6" />
<line x1="696.0" y1="1007.4" x2="696.0" y2="1030.0" stroke="#2a2a2a" stroke-width="0.6" />
<line x1="559.2" y1="1027.7" x2="696.0" y2="1027.7" stroke="#2a2a2a" stroke-width="0.8" />
<polygon points="559.2,1027.7 565.2,1025.5 565.2,1029.9" fill="#2a2a2a"/>
<polygon points="696.0,1027.7 690.0,1025.5 690.0,1029.9" fill="#2a2a2a"/>
<text x="629.9" y="1022.3" font-size="10.6" fill="#444" text-anchor="middle" dominant-baseline="central" letter-spacing="0.25">Φ<tspan dx="1.8">330</tspan></text>
<text x="634.7" y="1045.0" font-size="16.3" fill="#d42020" text-anchor="middle" dominant-baseline="central" letter-spacing="1.4">IV 型</text>
</svg>
</body></html>
